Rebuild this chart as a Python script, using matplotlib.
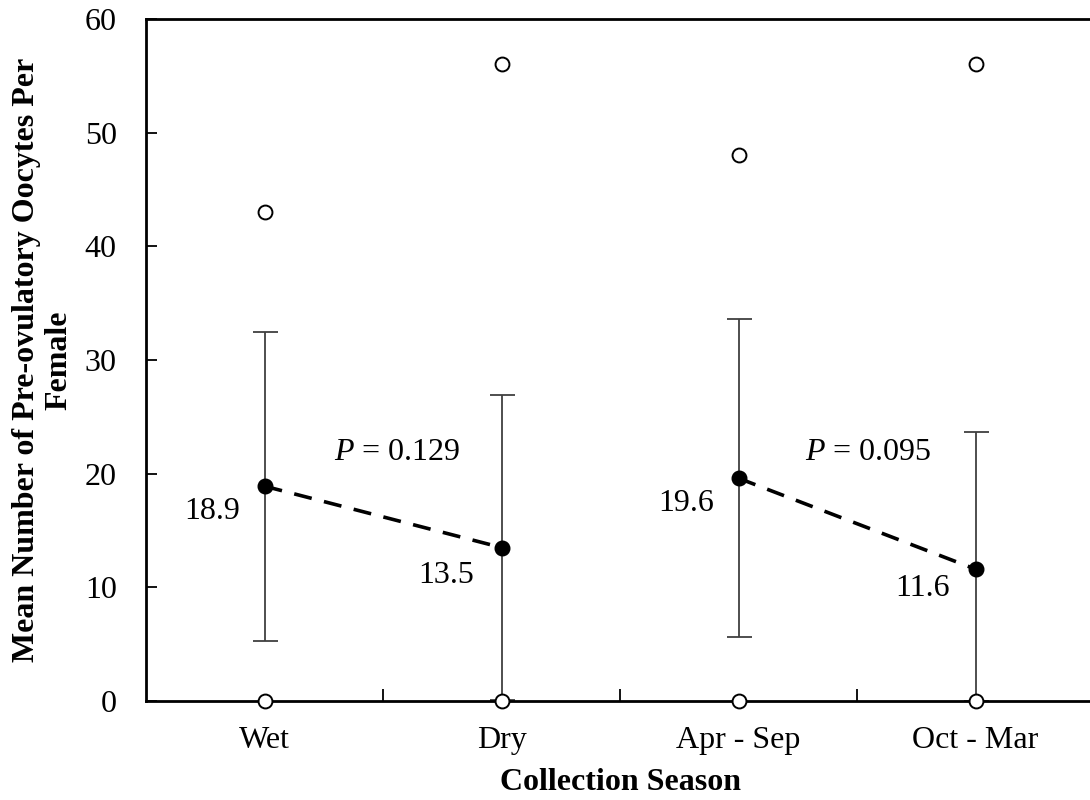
import numpy as np
import matplotlib
matplotlib.use("Agg")
from matplotlib import pyplot as plt
from matplotlib.ticker import FixedLocator

seasons = ["Wet", "Dry", "Apr - Sep", "Oct - Mar"]
means = [18.9, 13.5, 19.6, 11.6]
sds = [13.6, 13.4, 14.0, 12.1]
maxima = [43, 56, 48, 56]
minima = [0, 0, 0, 0]
mean_labels = ["18.9", "13.5", "19.6", "11.6"]
p_values = ["0.129", "0.095"]
pairs = [(0, 1), (2, 3)]

font = {'family': 'serif',
        'serif': ['Liberation Serif', 'DejaVu Serif'],
        'size': 23}
matplotlib.rc('font', **font)
plt.rcParams['mathtext.fontset'] = 'custom'
plt.rcParams['mathtext.it'] = 'Liberation Serif:italic'
plt.rcParams['mathtext.rm'] = 'Liberation Serif'

fig = plt.figure(figsize=(10.9, 8), dpi=100)
ax = fig.add_axes([146 / 1090, 1 - 701 / 800, 948 / 1090, 682 / 800])

x = np.arange(len(seasons))
means = np.array(means)
sds = np.array(sds)
lower = np.minimum(sds, means)

ax.errorbar(x, means, yerr=[lower, sds], fmt="none", ecolor="#404040",
            elinewidth=1.3, capsize=9, capthick=1.3, zorder=2)

for a, b in pairs:
    ax.plot([x[a], x[b]], [means[a], means[b]], color="black", lw=2.6,
            ls=(0, (5, 3.5)), zorder=3)

ax.plot(x, means, "o", color="black", markersize=10.5, zorder=4)
ax.plot(x, maxima, "o", mfc="white", mec="black", mew=1.4, markersize=10, zorder=4)
ax.plot(x, minima, "o", mfc="white", mec="black", mew=1.4, markersize=10,
        zorder=5, clip_on=False)

offsets = [(-38, -18), (-40, -20), (-38, -18), (-38, -14)]
for i, lab in enumerate(mean_labels):
    ax.annotate(lab, (x[i], means[i]), xytext=offsets[i], textcoords="offset points",
                ha="center", va="center")

p_pos = [0.56, 2.547]
for p, px in zip(p_values, p_pos):
    ax.text(px, 21.9, "$P$ = " + p, ha="center", va="center")

ax.set_xlim(-0.5, 3.5)
ax.set_ylim(0, 60)
ax.set_yticks(np.arange(0, 61, 10))
ax.xaxis.set_major_locator(FixedLocator(x))
ax.set_xticklabels(seasons)
ax.xaxis.set_minor_locator(FixedLocator([0.5, 1.5, 2.5]))
ax.tick_params(axis="x", which="major", length=0, pad=18)
ax.tick_params(axis="x", which="minor", direction="in", length=9, width=1.3)
ax.tick_params(axis="y", direction="in", length=8, width=1.3, pad=21)

for s in ["left", "bottom", "top"]:
    ax.spines[s].set_linewidth(2)
ax.spines["right"].set_visible(False)

fig.text(620 / 1090, 1 - 782 / 800, "Collection Season", ha="center", va="center",
         fontweight="bold")
fig.text(43 / 1090, 1 - 360 / 800, "Mean Number of Pre-ovulatory Oocytes Per\nFemale",
         ha="center", va="center", rotation=90, fontweight="bold", linespacing=1.15)

plt.savefig("out.png", dpi=100)
